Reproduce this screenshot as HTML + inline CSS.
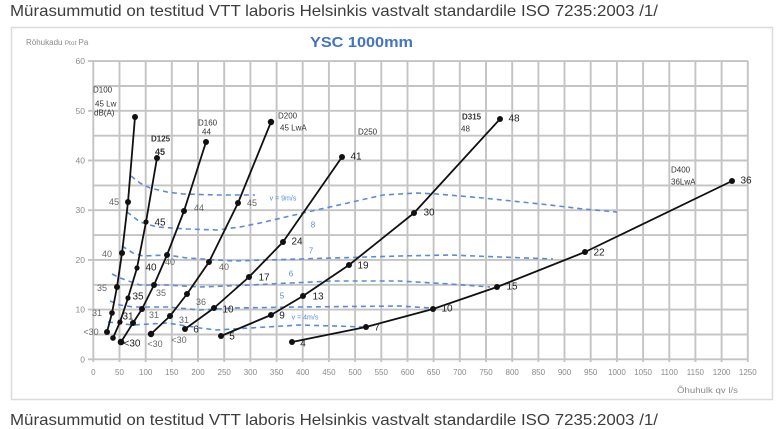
<!DOCTYPE html>
<html><head><meta charset="utf-8"><style>
html,body{margin:0;padding:0;background:#fff;}
svg{display:block;}
text{font-family:"Liberation Sans",sans-serif;}
</style></head><body>
<svg width="783" height="429" viewBox="0 0 783 429" xmlns="http://www.w3.org/2000/svg">
<rect width="783" height="429" fill="#fff"/>
<text x="10" y="16" font-size="16" fill="#3d3d3d" textLength="648" lengthAdjust="spacingAndGlyphs">Mürasummutid on testitud VTT laboris Helsinkis vastvalt standardile ISO 7235:2003 /1/</text>
<text x="10" y="425" font-size="16" fill="#3d3d3d" textLength="648" lengthAdjust="spacingAndGlyphs">Mürasummutid on testitud VTT laboris Helsinkis vastvalt standardile ISO 7235:2003 /1/</text>
<rect x="11.5" y="27.5" width="761" height="372" fill="#fff" stroke="#dcdcdc" stroke-width="1.5"/>
<text x="26" y="45" font-size="8" fill="#8a8a8a">Röhukadu <tspan font-size="6.5">Ptot</tspan> Pa</text>
<text x="310" y="47" font-size="15" font-weight="bold" fill="#4472c4" textLength="103" lengthAdjust="spacingAndGlyphs">YSC 1000mm</text>
<g stroke="#c4c4c4" stroke-width="1.9" fill="none" id="grid">
<path d="M93.3 61V362M119.5 61V362M145.7 61V362M171.8 61V362M198 61V362M224.2 61V362M250.4 61V362M276.6 61V362M302.7 61V362M328.9 61V362M355.1 61V362M381.3 61V362M407.5 61V362M433.6 61V362M459.8 61V362M486 61V362M512.2 61V362M538.4 61V362M564.5 61V362M590.7 61V362M616.9 61V362M643.1 61V362M669.3 61V362M695.4 61V362M721.6 61V362M747.8 61V362"/>
<path d="M88 359.3H748M93 334.5H748M93 309.6H748M93 284.8H748M93 259.9H748M93 235.1H748M88 210.2H748M93 185.4H748M93 160.5H748M93 135.7H748M93 110.8H748M93 86H748M88 61.1H748"/>
<path d="M88 309.6H93M88 259.9H93M88 160.5H93M88 110.8H93"/>
</g>
<g font-size="8.5" fill="#8a8a8a" text-anchor="end">
<text x="85" y="362.3">0</text><text x="85" y="312.6">10</text><text x="85" y="262.9">20</text><text x="85" y="213.2">30</text><text x="85" y="163.5">40</text><text x="85" y="113.8">50</text><text x="85" y="64.1">60</text>
</g>
<g font-size="8" fill="#8a8a8a" text-anchor="middle">
<text x="93.3" y="375">0</text><text x="119.5" y="375">50</text><text x="145.7" y="375">100</text><text x="171.8" y="375">150</text><text x="198" y="375">200</text><text x="224.2" y="375">250</text><text x="250.4" y="375">300</text><text x="276.6" y="375">350</text><text x="302.7" y="375">400</text><text x="328.9" y="375">450</text><text x="355.1" y="375">500</text><text x="381.3" y="375">550</text><text x="407.5" y="375">600</text><text x="433.6" y="375">650</text><text x="459.8" y="375">700</text><text x="486" y="375">750</text><text x="512.2" y="375">800</text><text x="538.4" y="375">850</text><text x="564.5" y="375">900</text><text x="590.7" y="375">950</text><text x="616.9" y="375">1000</text><text x="643.1" y="375">1050</text><text x="669.3" y="375">1100</text><text x="695.4" y="375">1150</text><text x="721.6" y="375">1200</text><text x="747.8" y="375">1250</text>
</g>
<text x="677" y="393" font-size="8.5" fill="#8a8a8a" textLength="61" lengthAdjust="spacingAndGlyphs">Õhuhulk qv l/s</text>

<!-- dashed velocity curves -->
<g stroke="#5b8ad8" stroke-width="1.6" fill="none" stroke-dasharray="5 4" stroke-linejoin="round">
<polyline points="131,176 140,183 150,188 167,192 183,194 217,195 255,195"/>
<polyline points="127,212 140,222 157,227 187,229 217,230 240,227 260,223 303,213 330,207 383,195 417,193 437,194 483,198 550,205 583,209 617,212"/>
<polyline points="122,246 133,253 143,256 167,255 187,258 233,261 267,260 333,258 400,256 450,255 500,257 553,259"/>
<polyline points="112,274 120,278 140,285 167,285 200,287 250,285 290,283 333,281 400,281 450,284 490,287"/>
<polyline points="110,301 120,305 133,307 167,307 200,310 233,308 300,307 400,306 430,308"/>
<polyline points="108,322 133,325 167,323 200,328 217,330 233,329 300,325 367,327"/>
</g>
<g fill="#5b8ad8" font-size="8" text-anchor="middle" dominant-baseline="central">
<text x="283" y="199" font-size="7">v = 9m/s</text>
<text x="313" y="225">8</text><text x="311" y="251">7</text><text x="291" y="274">6</text><text x="282" y="296">5</text>
<text x="305" y="318" font-size="7">v = 4m/s</text>
</g>

<!-- duct curves -->
<g stroke="#111" stroke-width="1.8" fill="none" stroke-linejoin="round" stroke-linecap="round">
<polyline points="107,332 112,313 117,287 122,253 128,202 135,117"/>
<polyline points="113,338 120,322 128,298 137,268 146,222 157,158"/>
<polyline points="121,342 133,323 142,309 154,285 167,255 184,211 206,142"/>
<polyline points="151,334 170,316 187,294 209,262 238,203 271,122"/>
<polyline points="185,329 214,308 249,277 283,242 342,157"/>
<polyline points="221,336 271,315 303,296 349,265 414,213 500,119"/>
<polyline points="292,342 366,327 433,309 497,287 585,252 732,181"/>
</g>
<g fill="#111">
<circle cx="107" cy="332" r="3"/><circle cx="112" cy="313" r="2.8"/><circle cx="117" cy="287" r="3"/><circle cx="122" cy="253" r="3"/><circle cx="128" cy="202" r="3"/><circle cx="135" cy="117" r="3"/>
<circle cx="113" cy="338" r="2.8"/><circle cx="120" cy="322" r="2.6"/><circle cx="128" cy="298" r="2.6"/><circle cx="137" cy="268" r="2.6"/><circle cx="146" cy="222" r="2.6"/><circle cx="157" cy="158" r="3"/>
<circle cx="121" cy="342" r="3.3"/><circle cx="133" cy="323" r="3"/><circle cx="142" cy="309" r="3"/><circle cx="154" cy="285" r="3"/><circle cx="167" cy="255" r="3"/><circle cx="184" cy="211" r="3"/><circle cx="206" cy="142" r="3"/>
<circle cx="151" cy="334" r="3.2"/><circle cx="170" cy="316" r="3"/><circle cx="187" cy="294" r="3"/><circle cx="209" cy="262" r="3"/><circle cx="238" cy="203" r="3"/><circle cx="271" cy="122" r="3.2"/>
<circle cx="185" cy="329" r="3"/><circle cx="214" cy="308" r="3"/><circle cx="249" cy="277" r="3"/><circle cx="283" cy="242" r="3"/><circle cx="342" cy="157" r="3"/>
<circle cx="221" cy="336" r="3"/><circle cx="271" cy="315" r="3"/><circle cx="303" cy="296" r="3"/><circle cx="349" cy="265" r="3"/><circle cx="414" cy="213" r="3"/><circle cx="500" cy="119" r="3"/>
<circle cx="292" cy="342" r="3"/><circle cx="366" cy="327" r="3"/><circle cx="433" cy="309" r="3"/><circle cx="497" cy="287" r="3"/><circle cx="585" cy="252" r="3"/><circle cx="732" cy="181" r="3"/>
</g>

<!-- point labels -->
<g font-size="9" text-anchor="middle" dominant-baseline="central" fill="#666">
<text x="114" y="202">45</text><text x="107" y="254">40</text><text x="102" y="288">35</text><text x="97" y="313">31</text><text x="91" y="332">&lt;30</text>
<text x="199" y="208">44</text><text x="170" y="262">40</text><text x="161" y="293">35</text><text x="154" y="315">31</text><text x="155" y="344">&lt;30</text>
<text x="252" y="203">45</text><text x="224" y="267">40</text><text x="201" y="302">36</text><text x="184" y="320">31</text><text x="179" y="340">&lt;30</text>
</g>
<g font-size="10" text-anchor="middle" dominant-baseline="central" fill="#222">
<text x="160" y="223">45</text><text x="151" y="268">40</text><text x="138" y="297">35</text><text x="128" y="317">31</text><text x="132" y="344">&lt;30</text>
<text x="297" y="242">24</text><text x="264" y="278">17</text><text x="228" y="310">10</text><text x="196" y="330">6</text><text x="356" y="157">41</text>
<text x="363" y="266">19</text><text x="318" y="297">13</text><text x="282" y="316">9</text><text x="232" y="337">5</text><text x="429" y="213">30</text><text x="514" y="119">48</text>
<text x="303" y="344">4</text><text x="377" y="328">7</text><text x="447" y="309">10</text><text x="512" y="287">15</text><text x="599" y="253">22</text><text x="746" y="181">36</text>
</g>
<g font-size="8" fill="#333" dominant-baseline="central">
<text x="93" y="90">D100</text><text x="95" y="104">45 Lw</text><text x="94" y="113">dB(A)</text>
<text x="151" y="139" font-weight="bold">D125</text><text x="155" y="152" font-size="9" font-weight="bold">45</text>
<text x="198" y="123">D160</text><text x="202" y="132">44</text>
<text x="278" y="116">D200</text><text x="280" y="128">45 LwA</text>
<text x="358" y="132">D250</text>
<text x="462" y="117" font-weight="bold">D315</text><text x="461" y="129">48</text>
<text x="671" y="170">D400</text><text x="671" y="182">36LwA</text>
</g>
</svg>
</body></html>
